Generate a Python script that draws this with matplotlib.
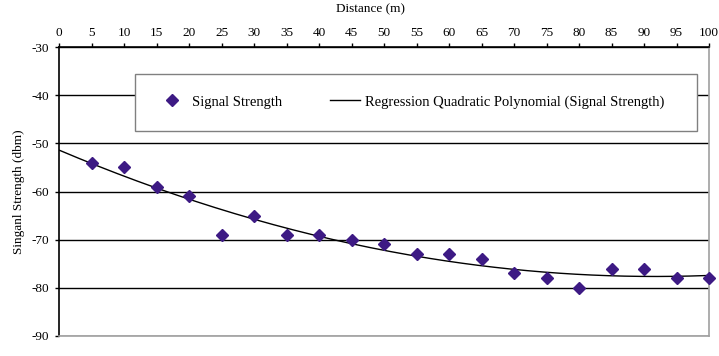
import numpy as np
import matplotlib
matplotlib.use("Agg")
import matplotlib.pyplot as plt
from matplotlib.patches import Rectangle

distance = [5, 10, 15, 20, 25, 30, 35, 40, 45, 50, 55, 60, 65, 70, 75, 80, 85, 90, 95, 100]
signal = [-54, -55, -59, -61, -69, -65, -69, -69, -70, -71, -73, -73, -74, -77, -78, -80, -76, -76, -78, -78]
x_ticks = list(range(0, 101, 5))
y_ticks = [-30, -40, -50, -60, -70, -80, -90]

plt.rcParams['font.family'] = ['Liberation Serif', 'DejaVu Serif']
plt.rcParams['font.size'] = 9.5
plt.rcParams['axes.unicode_minus'] = False

fig = plt.figure(figsize=(7.19, 3.56), dpi=100)
ax = fig.add_axes([59/719, 1-336/356, 650/719, 289/356])

coef = np.polyfit(distance, signal, 2)
xs = np.linspace(0, 100, 201)
ax.plot(xs, np.polyval(coef, xs), color='black', lw=1.0, zorder=3,
        label='Regression Quadratic Polynomial (Signal Strength)')
ax.plot(distance, signal, linestyle='none', marker='D', markersize=6,
        color='#3d1a84', markeredgecolor='#3d1a84', zorder=4, clip_on=False,
        label='Signal Strength')

ax.set_xlim(0, 100)
ax.set_ylim(-90, -30)
ax.set_xticks(x_ticks)
ax.set_yticks(y_ticks)
ax.xaxis.tick_top()
ax.xaxis.set_label_position('top')
ax.set_xlabel('Distance (m)', labelpad=4)
ax.xaxis.set_label_coords((371-59)/650, 1 + (47-9)/289)
ax.xaxis.label.set_verticalalignment('center')
ax.set_ylabel('Singanl Strength (dbm)', labelpad=5)
ax.tick_params(axis='both', direction='out', length=3, width=1, colors='black', pad=3)
ax.tick_params(axis='y', pad=4)
ax.tick_params(axis='x', top=True, bottom=False)

ax.grid(axis='y', color='black', lw=1.0, zorder=1)
ax.set_axisbelow(True)
for s in ['top', 'left']:
    ax.spines[s].set_color('black')
    ax.spines[s].set_linewidth(1.2)
for s in ['right', 'bottom']:
    ax.spines[s].set_color('#a0a0a0')
    ax.spines[s].set_linewidth(1.2)

box = Rectangle(((135-59)/650, (336-131)/289), (697-135)/650, (131-74)/289,
                transform=ax.transAxes, facecolor='white', edgecolor='#808080',
                lw=1.0, zorder=2.5)
ax.add_patch(box)

handles, labels = ax.get_legend_handles_labels()
leg = ax.legend(handles[::-1], labels[::-1], loc='center left', ncol=2,
                bbox_to_anchor=((156.5-59)/650, (336-102)/289), frameon=False,
                handlelength=2.1, handletextpad=0.3, columnspacing=3.3,
                borderpad=0, borderaxespad=0, fontsize=10.5)
leg.set_zorder(6)

fig.savefig('out.png', dpi=100)
